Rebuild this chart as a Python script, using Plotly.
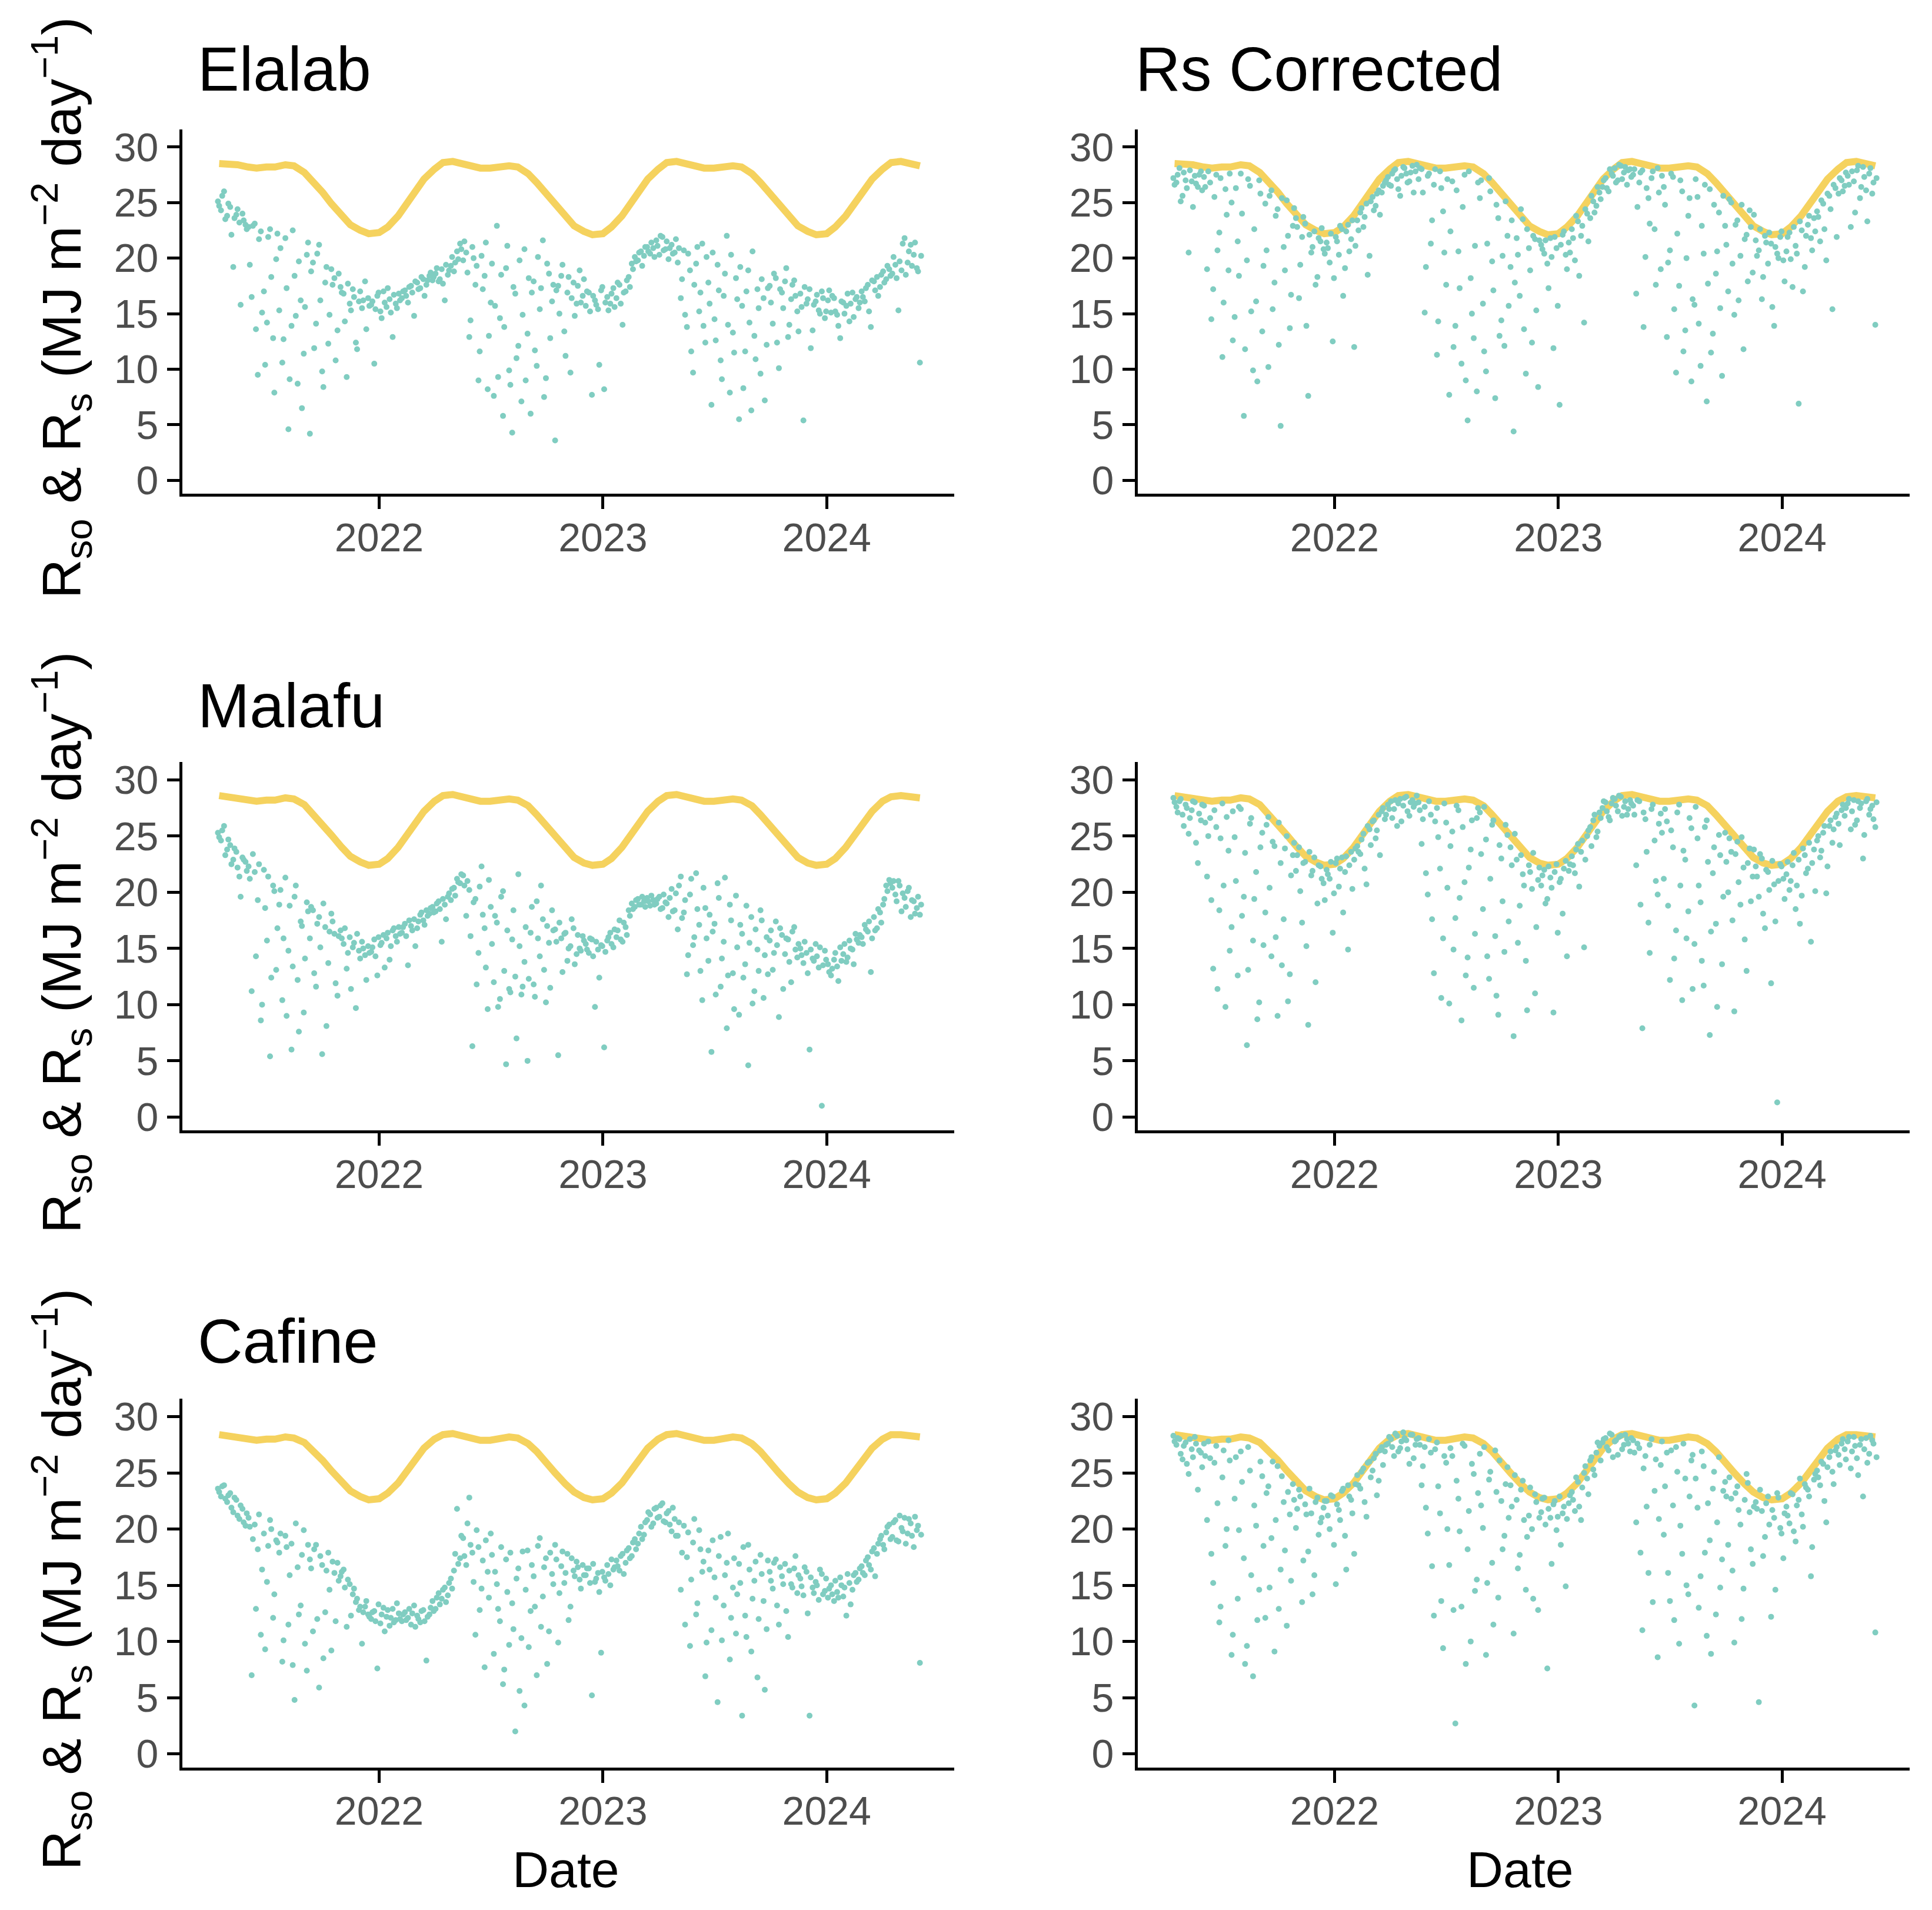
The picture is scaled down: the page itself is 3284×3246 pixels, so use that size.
import pandas as pd
import plotly.graph_objects as go
from plotly.subplots import make_subplots

# Rs readings: two interleaved sets, each one value every 5 days
# set A from 2021-04-13, set B from 2021-04-15, both running to early June 2024
# Rso clear-sky curve read twice a month (1st and 15th), 2021-04-15 .. 2024-06-01
rs_start_a = "2021-04-13"
rs_start_b = "2021-04-15"
rso_start = "2021-04-15"

tick_dates = ["2022-01-01", "2023-01-01", "2024-01-01"]
tick_labels = ["2022", "2023", "2024"]
y_ticks = [0, 5, 10, 15, 20, 25, 30]

site_names = ["Elalab", "Malafu", "Cafine"]

rso_elalab = [
    28.5, 28.5, 28.4, 28.2, 28.1, 28.2, 28.2, 28.4, 28.3, 27.7, 26.9, 25.9, 24.9, 23.8, 23.0, 22.5, 22.2,
    22.3, 22.8, 23.8, 24.9, 26.0, 27.1, 28.0, 28.6, 28.7, 28.5, 28.2, 28.1, 28.1, 28.2, 28.3, 28.2,
    27.6, 26.8, 25.8, 24.8, 23.7, 22.9, 22.4, 22.1,
    22.2, 22.8, 23.8, 24.9, 26.0, 27.1, 28.0, 28.6, 28.7, 28.5, 28.2, 28.1, 28.1, 28.2, 28.3, 28.2,
    27.6, 26.8, 25.8, 24.8, 23.7, 22.9, 22.4, 22.1,
    22.2, 22.8, 23.8, 24.9, 26.0, 27.1, 28.0, 28.6, 28.7, 28.5, 28.3,
]
rso_malafu = [
    28.6, 28.5, 28.4, 28.2, 28.1, 28.2, 28.2, 28.4, 28.3, 27.8, 27.0, 26.0, 25.1, 24.0, 23.2, 22.7, 22.4,
    22.5, 23.0, 24.0, 25.0, 26.1, 27.2, 28.1, 28.6, 28.7, 28.5, 28.2, 28.1, 28.1, 28.2, 28.3, 28.2,
    27.7, 26.9, 25.9, 24.9, 23.9, 23.1, 22.6, 22.4,
    22.5, 23.0, 24.0, 25.0, 26.1, 27.2, 28.1, 28.6, 28.7, 28.5, 28.2, 28.1, 28.1, 28.2, 28.3, 28.2,
    27.7, 26.9, 25.9, 24.9, 23.9, 23.1, 22.6, 22.4,
    22.5, 23.0, 24.0, 25.0, 26.1, 27.2, 28.1, 28.5, 28.6, 28.5, 28.4,
]
rso_cafine = [
    28.4, 28.3, 28.2, 28.0, 27.9, 28.0, 28.0, 28.2, 28.1, 27.7, 27.0, 26.1, 25.2, 24.2, 23.4, 22.9, 22.6,
    22.7, 23.2, 24.1, 25.1, 26.1, 27.2, 28.0, 28.4, 28.5, 28.3, 28.0, 27.9, 27.9, 28.0, 28.2, 28.1,
    27.6, 26.9, 26.0, 25.0, 24.0, 23.3, 22.8, 22.6,
    22.7, 23.2, 24.1, 25.1, 26.1, 27.2, 28.0, 28.4, 28.5, 28.3, 28.0, 27.9, 27.9, 28.0, 28.2, 28.1,
    27.6, 26.9, 26.0, 25.0, 24.0, 23.3, 22.8, 22.6,
    22.7, 23.2, 24.1, 25.1, 26.1, 27.2, 28.0, 28.4, 28.4, 28.3, 28.2,
]

rs_elalab_a = [
    25.1, 24.3, 26.0, 23.8, 24.6, 19.2, 23.9, 23.2, 24.0, 23.0,
    22.8, 16.5, 23.1, 9.5, 22.4, 17.0, 14.2, 22.6, 12.8, 19.9,
    15.3, 10.6, 21.8, 4.6, 13.9, 18.4, 8.7, 16.2, 11.4, 20.3,
    4.2, 19.6, 14.1, 21.2, 9.8, 17.8, 12.3, 19.0, 18.2, 13.5,
    17.4, 16.8, 9.3, 15.9, 17.2, 12.4, 16.1, 15.5, 17.9, 16.4,
    15.8, 10.5, 16.6, 15.2, 17.0, 15.6, 16.3, 12.9, 15.9, 16.8,
    16.4, 17.1, 16.0, 17.5, 14.8, 17.8, 17.3, 18.1, 17.6, 18.4,
    18.0, 18.6, 17.9, 19.0, 16.2, 18.5, 19.3, 18.8, 20.6, 21.3,
    19.8, 20.5, 12.9, 21.0, 17.6, 9.0, 20.2, 18.4, 8.2, 16.0,
    7.6, 22.9, 14.6, 5.8, 19.1, 9.9, 4.3, 16.8, 12.1, 7.1,
    20.8, 13.2, 6.0, 17.9, 10.3, 15.4, 21.6, 9.2, 18.6, 16.1,
    3.6, 17.5, 18.4, 13.4, 16.9, 9.7, 17.8, 15.9, 18.9, 16.6,
    15.7, 16.9, 7.7, 16.2, 15.4, 17.1, 8.2, 16.5, 15.9, 17.3,
    16.4, 17.6, 14.0, 17.0, 18.3, 19.5, 20.1, 19.8, 20.6, 20.2,
    21.0, 20.4, 20.9, 21.6, 20.3, 21.9, 20.8, 19.9, 21.2, 20.5,
    19.6, 16.4, 20.7, 13.8, 18.9, 9.7, 19.5, 15.2, 21.3, 12.4,
    17.8, 6.8, 14.5, 19.4, 10.8, 16.6, 22.0, 7.9, 13.3, 18.2,
    5.5, 15.7, 11.6, 18.9, 6.3, 13.0, 17.2, 9.6, 16.4, 12.2,
    17.5, 14.1, 18.2, 10.1, 16.9, 17.9, 12.9, 16.3, 18.0, 15.2,
    16.8, 5.4, 15.9, 17.2, 13.5, 16.1, 15.3, 17.0, 14.6, 16.2,
    15.1, 16.4, 14.9, 12.8, 16.0, 15.7, 14.3, 16.9, 16.3, 15.5,
    17.0, 16.1, 17.6, 13.8, 17.9, 18.3, 17.4, 18.8, 18.1, 19.0,
    18.6, 19.4, 15.3, 18.9, 21.8, 19.6, 21.2, 20.3, 19.1, 10.6,
]
rs_elalab_b = [
    24.7, 25.6, 23.5, 24.9, 22.1, 23.6, 24.4, 15.8, 23.4, 22.6,
    19.4, 22.9, 13.6, 21.7, 15.1, 10.4, 21.9, 18.3, 7.9, 22.2,
    20.9, 12.7, 17.3, 9.1, 22.5, 14.8, 19.7, 6.5, 15.6, 21.4,
    18.8, 11.9, 20.4, 16.2, 8.4, 19.2, 14.9, 17.6, 10.8, 18.6,
    16.9, 14.3, 17.7, 15.3, 16.5, 11.8, 17.0, 16.2, 13.6, 15.7,
    16.1, 15.4, 16.9, 14.6, 16.0, 17.3, 15.1, 16.7, 15.5, 16.2,
    17.0, 16.6, 17.4, 16.9, 17.9, 17.2, 18.3, 16.6, 18.0, 18.7,
    18.3, 19.1, 18.1, 17.7, 19.4, 18.9, 20.1, 19.6, 19.9, 20.8,
    21.5, 18.7, 14.4, 20.0, 19.3, 11.6, 17.2, 21.4, 13.0, 19.5,
    15.7, 9.3, 18.5, 13.8, 21.1, 8.6, 17.4, 11.0, 19.8, 14.9,
    9.0, 18.2, 16.9, 11.7, 20.1, 17.3, 7.5, 19.5, 12.8, 17.6,
    17.1, 15.0, 19.4, 11.2, 18.3, 16.4, 14.8, 17.5, 16.0, 18.1,
    17.0, 15.2, 16.6, 15.8, 10.4, 17.4, 16.0, 15.3, 16.8, 15.6,
    17.8, 15.9, 16.9, 18.0, 17.4, 19.0, 19.7, 20.5, 19.3, 21.0,
    20.6, 21.4, 20.1, 21.1, 22.0, 20.7, 21.5, 20.9, 20.4, 21.7,
    20.9, 18.1, 14.9, 20.4, 11.6, 17.6, 21.0, 16.9, 13.9, 20.1,
    15.9, 20.5, 12.6, 17.1, 9.1, 18.6, 14.0, 20.3, 11.5, 16.3,
    19.2, 8.3, 17.0, 14.2, 20.6, 10.9, 15.5, 18.1, 7.2, 17.3,
    16.0, 18.6, 12.4, 17.2, 15.5, 19.1, 14.0, 17.6, 16.6, 13.4,
    15.6, 17.4, 16.3, 11.9, 15.8, 16.7, 15.0, 16.4, 15.2, 17.1,
    16.6, 15.2, 13.9, 16.1, 15.0, 16.8, 15.9, 14.7, 16.5, 16.0,
    16.5, 17.3, 15.2, 18.0, 17.1, 16.6, 18.5, 17.8, 19.3, 18.4,
    20.1, 18.2, 19.7, 21.3, 18.5, 20.6, 19.3, 21.4, 18.8, 20.2,
]
rs_elalab_corr_a = [
    27.2, 26.8, 28.1, 25.6, 27.0, 20.5, 26.9, 27.4, 26.4, 27.8,
    27.3, 19.0, 26.8, 17.2, 27.5, 22.3, 11.1, 26.2, 18.9, 25.0,
    14.7, 21.5, 27.6, 5.8, 19.8, 26.5, 9.9, 16.1, 27.0, 13.4,
    24.9, 10.2, 26.1, 17.8, 24.4, 4.9, 21.0, 25.2, 13.7, 22.9,
    23.6, 16.4, 21.9, 23.1, 7.6, 20.5, 22.4, 18.3, 21.5, 20.8,
    21.4, 19.6, 12.5, 21.9, 20.3, 22.6, 19.1, 23.0, 21.7, 12.0,
    23.4, 24.1, 22.8, 24.9, 20.2, 25.5, 24.7, 26.1, 25.9, 26.8,
    27.3, 26.5, 27.9, 27.1, 25.6, 28.2, 27.6, 26.9, 28.3, 27.8,
    27.1, 28.0, 15.1, 27.4, 21.3, 26.6, 11.3, 27.8, 24.2, 17.6,
    7.7, 26.9, 13.9, 20.6, 10.5, 27.5, 5.4, 18.2, 12.8, 8.0,
    25.4, 15.9, 9.8, 27.2, 19.7, 7.4, 23.6, 14.4, 12.1, 22.0,
    19.2, 4.4, 21.8, 16.6, 23.5, 9.6, 20.9, 12.4, 21.7, 8.4,
    21.2, 20.4, 19.5, 21.8, 11.9, 20.9, 6.8, 22.1, 20.3, 21.4,
    22.6, 19.8, 23.3, 22.0, 14.2, 24.0, 23.6, 25.1, 24.7, 25.9,
    26.4, 27.2, 26.0, 27.6, 28.1, 27.0, 28.3, 27.7, 26.6, 28.0,
    27.5, 16.8, 26.8, 27.9, 20.1, 25.4, 27.2, 22.6, 28.1, 19.0,
    26.4, 12.9, 20.7, 27.3, 9.7, 17.5, 26.0, 13.5, 23.8, 8.9,
    15.8, 25.5, 10.3, 20.4, 7.1, 26.2, 13.2, 18.6, 24.1, 9.4,
    22.9, 17.0, 25.0, 14.9, 23.4, 20.2, 11.8, 22.1, 24.3, 18.7,
    21.6, 20.7, 16.3, 22.0, 19.5, 21.3, 13.9, 20.4, 21.9, 19.8,
    20.6, 22.3, 17.4, 21.1, 6.9, 22.5, 19.2, 23.0, 21.8, 23.6,
    24.2, 21.5, 24.9, 19.8, 25.6, 15.4, 26.3, 25.8, 27.0, 26.5,
    27.4, 22.8, 26.9, 27.9, 25.4, 28.2, 26.1, 27.6, 25.8, 14.0,
]
rs_elalab_corr_b = [
    26.6, 27.5, 25.1, 27.7, 26.3, 27.9, 24.6, 26.7, 27.5, 26.1,
    26.4, 27.8, 14.5, 25.5, 20.7, 27.2, 16.0, 23.9, 27.6, 12.6,
    26.3, 18.4, 24.0, 11.8, 27.1, 15.2, 22.6, 8.9, 25.8, 19.3,
    20.7, 25.6, 15.4, 23.8, 12.2, 25.4, 18.9, 22.0, 16.7, 24.5,
    22.8, 19.4, 23.7, 13.9, 22.1, 21.0, 17.6, 21.8, 22.7, 20.4,
    20.9, 22.2, 18.2, 21.5, 22.9, 16.6, 22.4, 20.6, 23.4, 21.1,
    22.5, 24.5, 23.7, 18.5, 25.1, 24.3, 25.8, 23.9, 26.5, 27.0,
    26.6, 27.6, 28.0, 26.2, 27.4, 28.1, 26.8, 27.7, 25.9, 28.4,
    28.1, 25.9, 19.2, 27.6, 23.4, 28.0, 14.3, 26.3, 20.5, 27.1,
    22.4, 12.0, 26.1, 17.3, 24.6, 9.0, 27.8, 15.0, 21.1, 26.8,
    27.0, 11.6, 21.3, 26.0, 17.1, 24.8, 13.0, 20.2, 25.1, 15.7,
    23.4, 17.8, 20.3, 24.4, 13.6, 22.6, 18.9, 22.0, 15.3, 21.6,
    20.8, 21.6, 17.3, 20.1, 21.9, 15.7, 21.2, 22.4, 19.0, 20.5,
    21.8, 23.8, 18.4, 22.9, 24.4, 21.5, 25.6, 24.1, 26.4, 25.3,
    27.0, 26.3, 28.0, 27.4, 26.8, 28.4, 27.1, 28.2, 27.9, 27.3,
    28.0, 24.6, 27.7, 13.8, 26.3, 23.1, 27.8, 17.6, 25.9, 27.4,
    24.8, 19.6, 27.6, 15.4, 22.2, 27.0, 11.6, 20.0, 25.4, 16.3,
    27.1, 14.1, 22.9, 26.6, 17.7, 11.5, 24.8, 20.6, 15.5, 25.6,
    21.2, 25.3, 19.5, 23.0, 16.2, 24.8, 21.7, 17.9, 22.8, 23.9,
    20.2, 22.6, 18.3, 21.4, 22.3, 15.6, 21.0, 20.0, 22.4, 17.9,
    21.9, 19.9, 22.8, 20.4, 23.3, 17.0, 22.0, 23.8, 20.7, 22.4,
    23.7, 25.2, 22.6, 25.8, 24.4, 26.6, 21.9, 27.2, 26.0, 27.7,
    26.6, 27.8, 24.1, 28.3, 26.4, 27.3, 23.3, 28.1, 26.8, 27.2,
]

rs_malafu_a = [
    25.3, 24.6, 25.9, 23.8, 24.2, 22.9, 23.6, 21.4, 23.1, 22.7,
    22.3, 11.2, 21.8, 19.3, 8.6, 22.0, 15.7, 5.4, 20.6, 13.1,
    18.9, 10.4, 21.3, 14.8, 6.0, 19.6, 12.2, 17.4, 9.3, 19.1,
    15.9, 18.4, 11.6, 17.8, 5.6, 16.9, 13.7, 18.1, 16.3, 10.8,
    16.6, 15.4, 13.2, 16.0, 15.1, 9.7, 14.8, 15.6, 14.4, 15.2,
    14.7, 15.8, 12.6, 15.3, 16.2, 15.9, 14.0, 16.6, 16.1, 16.9,
    16.4, 17.2, 13.5, 17.0, 17.6, 16.8, 18.0, 17.5, 18.4, 18.1,
    18.7, 18.3, 19.2, 15.6, 18.9, 19.6, 19.3, 20.4, 21.2, 20.8,
    21.5, 17.9, 20.2, 6.3, 19.4, 14.6, 22.3, 16.8, 9.6, 18.7,
    12.0, 17.3, 10.5, 20.1, 4.7, 11.4, 15.8, 12.5, 21.6, 10.9,
    13.8, 5.0, 16.4, 11.8, 19.2, 14.3, 17.6, 10.2, 15.5, 18.4,
    16.7, 5.5, 15.9, 16.3, 13.9, 15.2, 16.8, 14.5, 15.0, 16.1,
    15.4, 14.6, 15.8, 9.8, 14.9, 15.3, 6.2, 15.7, 16.4, 15.1,
    16.0, 17.5, 15.6, 16.9, 18.4, 19.0, 18.7, 19.4, 18.9, 19.2,
    19.5, 18.8, 19.3, 19.0, 19.6, 18.6, 19.1, 17.8, 20.3, 18.4,
    16.7, 21.4, 18.2, 12.7, 19.8, 15.3, 21.7, 17.1, 10.4, 18.6,
    13.9, 5.8, 17.2, 20.8, 11.6, 15.6, 7.9, 18.9, 12.8, 19.7,
    9.1, 16.3, 13.6, 4.6, 17.8, 11.2, 14.9, 18.4, 10.6, 16.0,
    15.7, 13.1, 17.4, 8.9, 16.2, 14.5, 15.8, 12.0, 16.9, 14.2,
    15.0, 13.7, 14.6, 6.0, 14.1, 15.4, 13.3, 1.0, 14.8, 13.6,
    12.6, 14.0, 13.4, 15.1, 14.5, 13.8, 15.7, 14.9, 16.3, 15.5,
    16.0, 17.1, 16.5, 12.9, 17.8, 16.8, 18.2, 18.9, 20.6, 21.1,
    20.4, 19.8, 21.0, 18.3, 19.5, 20.1, 17.8, 19.2, 18.6, 18.0,
]
rs_malafu_b = [
    24.9, 25.5, 23.3, 24.7, 22.5, 23.9, 22.2, 19.6, 22.9, 21.9,
    21.2, 23.4, 14.3, 22.5, 10.0, 18.6, 21.4, 12.4, 20.1, 16.8,
    20.2, 15.9, 9.0, 18.8, 13.4, 20.6, 7.6, 17.0, 14.1, 18.3,
    18.7, 12.8, 17.2, 15.1, 19.0, 8.1, 16.5, 17.4, 11.9, 16.1,
    15.9, 16.8, 14.6, 11.4, 15.5, 16.3, 14.1, 15.0, 12.2, 14.6,
    15.1, 14.3, 16.0, 15.5, 13.3, 16.4, 15.2, 16.8, 15.6, 16.3,
    16.9, 16.1, 17.5, 16.6, 15.2, 17.4, 18.2, 17.1, 17.9, 18.6,
    18.2, 19.0, 18.5, 19.4, 17.6, 19.9, 20.3, 19.7, 20.9, 21.6,
    20.6, 21.0, 16.1, 19.1, 11.8, 20.5, 18.0, 13.3, 21.1, 15.4,
    17.9, 9.8, 19.6, 13.0, 16.6, 11.1, 18.4, 7.0, 15.2, 11.6,
    16.9, 12.3, 18.7, 10.7, 15.9, 20.6, 13.1, 17.0, 11.5, 16.6,
    15.6, 17.3, 12.9, 16.4, 15.0, 17.6, 13.6, 16.2, 14.8, 15.7,
    14.9, 15.9, 14.3, 15.6, 12.4, 15.2, 14.7, 16.0, 15.4, 16.7,
    16.6, 15.8, 17.3, 16.2, 17.9, 18.5, 19.3, 18.9, 19.6, 18.7,
    19.2, 19.7, 18.9, 19.4, 18.5, 19.8, 19.0, 19.5, 18.3, 19.9,
    20.6, 17.7, 19.3, 14.4, 21.2, 16.0, 18.5, 13.0, 20.4, 15.9,
    18.0, 16.5, 10.9, 19.5, 14.1, 21.3, 12.6, 17.5, 9.6, 15.1,
    17.1, 12.4, 18.8, 15.5, 10.1, 16.7, 13.0, 17.5, 14.4, 12.7,
    16.6, 14.6, 15.3, 16.8, 11.4, 15.9, 13.8, 16.5, 14.9, 15.4,
    14.4, 15.6, 12.8, 14.9, 13.9, 14.3, 15.1, 13.5, 14.0, 12.9,
    13.2, 14.6, 12.1, 13.9, 15.4, 14.2, 15.0, 13.6, 15.8, 16.2,
    15.4, 16.7, 17.4, 15.9, 16.6, 18.5, 17.3, 19.4, 20.1, 20.8,
    21.0, 19.2, 20.6, 19.9, 18.7, 20.4, 19.3, 18.1, 19.6, 18.9,
]
rs_malafu_corr_a = [
    28.4, 27.6, 28.1, 26.9, 27.8, 25.2, 27.3, 28.0, 22.6, 26.4,
    27.7, 21.4, 26.6, 13.2, 25.8, 18.4, 27.9, 9.8, 23.7, 16.9,
    24.9, 12.6, 27.4, 19.6, 6.4, 26.1, 15.7, 21.8, 10.2, 25.3,
    18.2, 26.7, 14.3, 24.1, 9.0, 22.6, 17.6, 25.0, 12.7, 23.3,
    21.9, 24.0, 17.3, 22.7, 8.2, 21.5, 23.1, 19.0, 22.3, 20.8,
    22.0, 21.2, 16.4, 22.6, 20.5, 23.1, 21.8, 14.9, 23.6, 22.9,
    24.1, 23.4, 25.2, 20.7, 25.6, 26.3, 24.8, 26.9, 27.2, 26.5,
    27.8, 28.1, 27.4, 25.9, 28.3, 27.7, 28.5, 26.8, 28.2, 27.9,
    28.0, 24.3, 27.6, 19.8, 26.9, 12.8, 27.5, 22.1, 15.9, 26.2,
    10.1, 25.4, 17.7, 27.3, 8.6, 20.9, 14.2, 23.8, 11.5, 26.6,
    27.1, 18.5, 24.7, 12.3, 26.0, 16.1, 9.1, 23.0, 14.7, 25.1,
    24.0, 7.2, 22.9, 18.8, 21.6, 13.9, 22.4, 20.3, 11.0, 21.1,
    20.6, 22.0, 19.4, 21.3, 9.3, 22.5, 20.9, 18.1, 22.8, 21.9,
    23.2, 21.7, 24.3, 23.6, 15.1, 25.0, 25.8, 26.4, 24.9, 27.1,
    27.5, 28.0, 26.7, 27.9, 28.3, 27.2, 28.5, 27.6, 26.9, 28.2,
    27.7, 22.4, 28.1, 7.9, 26.5, 17.3, 27.4, 24.6, 19.8, 27.0,
    21.2, 26.3, 12.2, 24.0, 16.6, 27.8, 10.4, 22.9, 18.3, 25.7,
    15.4, 24.8, 19.1, 11.7, 26.4, 7.3, 21.7, 17.2, 25.1, 13.6,
    25.3, 20.0, 23.6, 9.4, 24.5, 18.9, 22.2, 13.0, 23.9, 21.4,
    22.3, 19.6, 23.0, 16.8, 21.8, 11.9, 20.7, 1.3, 22.5, 21.2,
    21.6, 20.2, 22.4, 18.5, 22.9, 19.7, 23.3, 22.1, 15.6, 23.8,
    24.6, 23.1, 25.3, 19.9, 25.9, 24.4, 26.7, 26.1, 27.3, 26.8,
    27.9, 25.6, 28.2, 26.4, 27.5, 23.0, 28.1, 26.9, 27.7, 25.8,
]
rs_malafu_corr_b = [
    28.0, 27.1, 28.3, 25.9, 27.5, 26.6, 28.1, 24.4, 27.0, 27.8,
    26.2, 25.0, 19.3, 27.3, 11.4, 24.8, 20.6, 26.7, 14.8, 27.2,
    21.0, 27.6, 17.9, 23.5, 13.1, 26.6, 19.4, 8.7, 24.0, 15.3,
    26.0, 20.4, 24.5, 16.0, 26.2, 13.5, 23.9, 10.3, 21.5, 24.4,
    23.3, 20.1, 22.6, 15.2, 23.6, 21.9, 12.0, 22.4, 21.2, 19.3,
    21.6, 22.7, 19.9, 23.0, 22.1, 18.2, 23.2, 22.4, 20.3, 23.9,
    23.6, 24.7, 22.1, 25.9, 24.2, 26.4, 25.5, 23.3, 27.5, 26.9,
    27.4, 26.6, 28.2, 27.9, 26.3, 28.4, 27.2, 28.0, 27.6, 28.6,
    27.3, 26.5, 21.7, 28.1, 17.6, 26.3, 24.9, 10.6, 27.9, 20.4,
    24.1, 14.9, 27.7, 19.5, 25.8, 12.6, 22.2, 26.4, 16.3, 27.5,
    23.4, 27.6, 14.3, 21.2, 26.4, 10.8, 24.2, 19.2, 26.0, 17.4,
    22.4, 25.2, 15.5, 23.3, 20.6, 9.5, 21.8, 23.5, 16.9, 22.2,
    21.5, 19.0, 22.3, 20.4, 21.8, 16.4, 21.2, 22.1, 14.3, 22.5,
    22.4, 23.8, 20.5, 24.6, 22.9, 25.5, 24.1, 26.9, 25.4, 26.6,
    28.1, 27.2, 26.4, 28.4, 27.7, 28.6, 26.8, 28.1, 27.4, 27.9,
    26.9, 28.2, 18.9, 27.1, 23.6, 14.6, 27.8, 21.0, 26.1, 25.3,
    27.4, 18.8, 25.5, 14.1, 27.1, 20.6, 23.7, 15.9, 26.6, 11.4,
    27.6, 20.6, 13.9, 25.8, 22.7, 16.5, 24.0, 9.8, 23.3, 19.6,
    22.7, 24.8, 17.5, 23.4, 20.9, 24.9, 15.8, 22.6, 19.2, 23.8,
    21.4, 23.4, 18.1, 22.0, 20.2, 22.8, 17.4, 21.0, 22.3, 19.4,
    22.7, 21.0, 23.5, 20.6, 17.2, 23.9, 21.7, 24.4, 22.6, 20.1,
    25.0, 23.7, 25.9, 22.3, 26.4, 25.6, 27.0, 24.2, 27.8, 27.5,
    28.3, 27.2, 26.0, 28.1, 27.9, 25.1, 28.3, 27.4, 26.5, 28.0,
]

rs_cafine_a = [
    23.6, 22.9, 23.9, 22.4, 23.2, 21.5, 22.6, 20.9, 21.8, 20.3,
    21.0, 7.0, 20.4, 18.2, 10.6, 19.6, 15.3, 20.8, 12.1, 19.0,
    17.9, 8.2, 19.4, 11.5, 18.7, 4.8, 16.6, 13.2, 19.9, 7.4,
    17.3, 10.9, 18.6, 5.9, 16.8, 12.6, 17.9, 9.2, 16.1, 17.0,
    15.8, 16.4, 11.3, 15.1, 14.2, 13.5, 12.8, 9.8, 13.1, 12.4,
    12.0, 12.7, 7.6, 11.6, 13.0, 12.2, 11.4, 12.9, 11.9, 12.5,
    11.8, 12.6, 12.1, 11.5, 13.2, 12.3, 11.7, 12.8, 8.3, 12.4,
    13.6, 12.9, 14.3, 13.8, 14.8, 14.1, 15.6, 16.3, 21.8, 17.4,
    19.2, 16.8, 22.8, 17.9, 10.6, 18.4, 14.7, 7.7, 16.2, 19.6,
    8.9, 15.1, 11.8, 6.2, 17.3, 9.7, 13.4, 2.0, 16.5, 10.3,
    4.3, 18.1, 12.7, 15.8, 7.0, 19.2, 14.0, 17.4, 10.9, 16.0,
    18.6, 9.9, 16.7, 15.2, 17.8, 13.1, 16.3, 17.1, 15.5, 16.8,
    15.9, 16.5, 5.2, 15.3, 16.1, 9.0, 15.7, 16.8, 15.0, 16.4,
    17.2, 16.3, 17.8, 17.0, 18.3, 17.6, 19.1, 18.7, 20.2, 19.5,
    20.8, 21.3, 20.5, 21.9, 21.1, 22.3, 20.6, 21.6, 19.8, 20.9,
    19.4, 14.6, 20.3, 17.5, 9.6, 18.8, 12.4, 19.9, 16.2, 6.9,
    18.1, 11.0, 15.7, 4.6, 19.3, 13.2, 17.0, 8.4, 14.8, 10.7,
    16.9, 3.4, 12.3, 18.6, 9.1, 15.4, 6.8, 17.7, 13.6, 11.1,
    16.2, 14.7, 17.3, 11.5, 15.8, 16.9, 10.4, 15.1, 16.5, 14.3,
    15.6, 14.1, 16.2, 3.4, 14.8, 15.3, 13.7, 16.0, 14.5, 13.9,
    15.0, 13.6, 14.4, 15.7, 14.0, 12.3, 15.2, 14.6, 16.1, 15.5,
    16.7, 15.9, 17.5, 16.4, 18.3, 17.8, 19.1, 18.6, 19.7, 20.4,
    19.3, 20.8, 18.9, 20.1, 21.0, 19.6, 20.5, 18.4, 19.9, 8.1,
]
rs_cafine_b = [
    23.3, 23.8, 22.7, 23.0, 21.9, 22.8, 21.2, 22.1, 20.6, 21.4,
    20.2, 19.1, 12.9, 21.3, 16.4, 9.3, 18.5, 20.0, 14.2, 18.8,
    19.6, 10.1, 18.4, 15.9, 7.9, 20.5, 12.4, 17.7, 9.8, 18.6,
    16.5, 18.2, 12.0, 17.6, 8.5, 16.3, 14.6, 17.1, 11.8, 15.4,
    16.2, 14.8, 15.5, 12.3, 14.7, 13.8, 13.1, 12.6, 13.6, 12.2,
    12.6, 11.8, 13.3, 12.4, 10.9, 12.8, 12.1, 11.7, 13.4, 12.0,
    12.4, 11.9, 12.9, 12.5, 11.3, 12.0, 12.7, 11.8, 12.2, 13.0,
    12.7, 13.9, 13.3, 14.6, 13.5, 15.2, 14.7, 17.8, 16.9, 19.4,
    17.6, 20.5, 18.6, 15.3, 19.9, 12.8, 17.2, 19.0, 13.9, 17.7,
    16.2, 12.9, 18.4, 7.5, 14.4, 17.9, 11.1, 15.6, 5.6, 18.0,
    14.6, 9.5, 16.8, 13.1, 18.5, 11.3, 16.6, 8.0, 17.9, 15.1,
    17.3, 14.3, 18.0, 16.1, 11.9, 17.4, 15.8, 16.6, 14.7, 15.9,
    16.5, 15.2, 16.9, 15.6, 14.4, 16.2, 15.4, 16.0, 17.3, 16.6,
    16.7, 17.6, 16.0, 18.1, 17.4, 18.8, 18.2, 19.6, 19.1, 20.6,
    21.5, 20.2, 21.8, 21.0, 22.1, 20.7, 21.4, 20.4, 21.9, 19.4,
    20.6, 17.9, 11.5, 19.7, 15.5, 20.9, 13.4, 18.2, 17.1, 9.9,
    16.4, 19.0, 13.9, 17.6, 10.1, 15.9, 19.6, 12.1, 17.4, 14.2,
    15.2, 18.4, 10.4, 16.4, 13.8, 17.1, 12.0, 16.0, 5.7, 17.2,
    15.4, 17.0, 13.2, 16.6, 15.1, 12.7, 16.3, 14.8, 17.6, 15.9,
    14.9, 16.6, 12.5, 15.7, 14.3, 15.0, 16.4, 14.2, 15.6, 14.7,
    14.2, 15.4, 13.9, 15.0, 14.8, 16.0, 13.3, 15.9, 15.3, 16.5,
    16.1, 17.2, 16.8, 18.0, 15.8, 18.7, 19.4, 18.2, 20.2, 19.1,
    20.6, 19.0, 21.2, 19.8, 18.7, 20.9, 19.4, 21.1, 20.3, 19.5,
]
rs_cafine_corr_a = [
    28.3, 27.5, 28.0, 26.2, 27.7, 24.9, 27.1, 28.2, 23.5, 26.8,
    27.6, 20.8, 26.3, 15.2, 27.4, 11.7, 24.6, 18.5, 27.9, 8.8,
    22.7, 13.8, 26.9, 17.4, 9.6, 25.2, 6.9, 20.3, 14.6, 24.7,
    12.1, 23.8, 19.2, 9.1, 25.6, 16.4, 22.4, 11.4, 21.3, 24.0,
    20.1, 23.5, 13.5, 22.2, 18.0, 21.4, 15.9, 22.8, 20.6, 21.9,
    22.5, 20.0, 22.9, 15.1, 21.7, 23.4, 19.4, 23.9, 22.6, 17.8,
    24.8, 23.6, 25.4, 21.1, 26.0, 25.2, 26.7, 24.3, 27.3, 26.9,
    27.6, 28.0, 26.5, 28.3, 27.2, 28.6, 27.9, 25.8, 28.4, 27.5,
    28.1, 23.9, 27.3, 19.6, 26.8, 12.3, 27.7, 21.4, 9.4, 25.9,
    16.8, 26.5, 2.7, 22.7, 13.1, 27.4, 18.2, 10.0, 24.9, 15.5,
    26.7, 20.1, 8.8, 24.4, 17.0, 27.0, 13.9, 22.5, 19.4, 25.5,
    23.9, 10.7, 22.6, 17.7, 24.3, 14.6, 21.2, 20.0, 23.1, 12.8,
    21.5, 22.8, 7.6, 21.0, 22.2, 19.9, 22.9, 21.4, 14.9, 22.3,
    23.3, 21.6, 24.2, 20.8, 25.0, 24.5, 26.1, 25.3, 26.8, 27.4,
    27.7, 28.1, 27.0, 28.4, 27.8, 26.6, 28.3, 27.5, 28.0, 26.9,
    27.9, 20.6, 27.2, 11.0, 26.5, 16.1, 28.0, 23.4, 8.6, 25.7,
    19.5, 26.8, 13.6, 22.1, 27.3, 9.8, 17.8, 24.5, 14.2, 26.1,
    4.3, 21.9, 15.8, 25.6, 10.5, 19.0, 23.6, 12.4, 26.4, 17.3,
    24.2, 18.6, 22.7, 9.9, 23.8, 20.4, 14.7, 24.9, 21.5, 16.9,
    22.4, 4.6, 21.6, 19.3, 22.9, 12.2, 21.0, 23.2, 20.1, 17.4,
    22.0, 20.5, 23.1, 18.9, 22.6, 21.3, 24.0, 23.5, 15.8, 24.4,
    25.2, 23.9, 25.8, 20.6, 26.4, 25.1, 27.0, 26.6, 27.6, 27.1,
    27.8, 25.4, 28.2, 26.3, 27.5, 22.9, 28.1, 26.7, 27.9, 10.8,
]
rs_cafine_corr_b = [
    27.8, 28.1, 26.7, 27.4, 25.8, 28.0, 26.4, 27.6, 27.0, 25.5,
    26.5, 27.8, 17.8, 25.9, 22.3, 13.1, 27.0, 20.0, 26.1, 10.6,
    26.4, 19.9, 24.2, 8.0, 27.3, 15.9, 22.1, 11.9, 26.0, 18.5,
    23.2, 14.8, 26.0, 20.8, 12.9, 24.7, 18.1, 23.3, 15.4, 22.6,
    21.8, 22.9, 17.2, 21.3, 23.6, 14.2, 22.4, 19.5, 21.0, 22.5,
    21.2, 23.0, 18.6, 22.2, 20.8, 23.6, 16.4, 22.9, 21.4, 24.0,
    23.9, 25.1, 22.4, 25.9, 24.6, 26.3, 23.0, 27.0, 25.7, 27.5,
    28.2, 27.3, 28.5, 26.9, 27.8, 28.1, 27.1, 28.4, 26.3, 28.0,
    27.5, 25.6, 21.9, 28.0, 16.7, 27.1, 23.8, 13.6, 26.5, 20.0,
    27.2, 12.8, 24.3, 19.8, 27.6, 8.0, 21.6, 25.8, 14.5, 23.2,
    22.1, 27.3, 15.2, 25.1, 11.5, 23.3, 26.1, 18.2, 24.0, 21.0,
    22.0, 24.8, 16.5, 23.5, 20.8, 19.3, 23.7, 13.8, 22.4, 21.0,
    22.7, 20.4, 21.8, 16.9, 22.5, 21.1, 18.6, 22.0, 20.9, 23.0,
    22.6, 24.6, 22.0, 23.7, 25.6, 23.1, 26.4, 24.8, 27.7, 26.1,
    28.0, 27.3, 28.5, 26.4, 27.9, 28.2, 27.1, 28.4, 27.6, 28.1,
    26.8, 27.6, 17.9, 25.4, 22.0, 27.5, 13.5, 26.2, 20.9, 27.8,
    23.8, 16.1, 27.0, 11.9, 25.1, 20.3, 27.6, 15.0, 22.9, 26.6,
    24.5, 13.0, 26.9, 17.9, 22.3, 8.9, 25.1, 20.6, 14.8, 23.4,
    22.9, 24.6, 16.3, 23.2, 21.7, 12.0, 22.6, 24.1, 18.2, 22.0,
    21.8, 23.5, 17.6, 22.3, 20.4, 21.7, 14.6, 22.8, 19.6, 21.4,
    21.2, 23.2, 19.8, 22.1, 24.5, 20.2, 23.7, 22.9, 18.4, 24.9,
    24.6, 26.0, 22.5, 25.5, 26.9, 24.0, 27.3, 25.7, 28.0, 26.2,
    28.2, 26.9, 27.4, 24.8, 28.0, 27.1, 25.9, 28.3, 27.6, 26.4,
]

RS_COLOR = "#80CDC1"
RSO_COLOR = "#F5D25E"
FONT = "Liberation Sans"

# the page body keeps its default 8px margin, so the figure is 16px smaller
# than the 3284x3246 page and every position below is given in page pixels
PAGE_PAD = 8
W, H = 3284 - 2 * PAGE_PAD, 3246 - 2 * PAGE_PAD


def fx(px):
    return (px - PAGE_PAD) / W


def fy(px):
    return 1 - (px - PAGE_PAD) / H


dates_a = pd.date_range(rs_start_a, periods=len(rs_elalab_a), freq="5D")
dates_b = pd.date_range(rs_start_b, periods=len(rs_elalab_b), freq="5D")
dates_rs = list(dates_a) + list(dates_b)
dates_rso = pd.date_range(rso_start, periods=len(rso_elalab), freq="SMS")

panels = [
    (rso_elalab, rs_elalab_a + rs_elalab_b, rs_elalab_corr_a + rs_elalab_corr_b),
    (rso_malafu, rs_malafu_a + rs_malafu_b, rs_malafu_corr_a + rs_malafu_corr_b),
    (rso_cafine, rs_cafine_a + rs_cafine_b, rs_cafine_corr_a + rs_cafine_corr_b),
]

# panel boxes in page pixels: (left, right) per column, (top, bottom) per row
col_px = [(310, 1622), (1934, 3246)]
row_px = [(213, 837), (1296, 1927), (2386, 3017)]

fig = make_subplots(rows=3, cols=2)

for r, (rso, rs_raw, rs_corr) in enumerate(panels):
    for c, rs in enumerate([rs_raw, rs_corr]):
        fig.add_trace(go.Scatter(
            x=dates_rso, y=rso, mode="lines",
            line=dict(color=RSO_COLOR, width=12),
            showlegend=False, hoverinfo="skip"
        ), row=r + 1, col=c + 1)
        fig.add_trace(go.Scatter(
            x=dates_rs, y=rs, mode="markers",
            marker=dict(color=RS_COLOR, size=10, line=dict(width=0)),
            showlegend=False
        ), row=r + 1, col=c + 1)

axis_common = dict(
    showline=True, linecolor="black", linewidth=5,
    ticks="outside", ticklen=21, tickwidth=5, tickcolor="black",
    showgrid=False, zeroline=False, mirror=False,
    tickfont=dict(family=FONT, size=68, color="#4D4D4D"),
)

for r in range(3):
    for c in range(2):
        n = r * 2 + c + 1
        sx = "" if n == 1 else str(n)
        left, right = col_px[c]
        top, bottom = row_px[r]
        fig.layout["xaxis" + sx].update(
            domain=[fx(left), fx(right)],
            type="date", range=["2021-02-14", "2024-07-27"],
            tickvals=tick_dates, ticktext=tick_labels,
            ticklabelstandoff=-10,
            **axis_common
        )
        fig.layout["yaxis" + sx].update(
            domain=[fy(bottom), fy(top)],
            range=[-1.2, 31.6], tickvals=y_ticks,
            ticklabelstandoff=1,
            **axis_common
        )

annotations = []
title_font = dict(family=FONT, size=106, color="black")
title_rows_y = [110, 1199, 2287]
titles = [(site_names[0], 334, 0), ("Rs Corrected", 1928, 0),
          (site_names[1], 334, 1), (site_names[2], 334, 2)]
for text, x_px, r in titles:
    annotations.append(dict(
        text=text, x=fx(x_px), y=fy(title_rows_y[r]),
        xref="paper", yref="paper", xanchor="left", yanchor="middle",
        showarrow=False, font=title_font
    ))

y_title = "R<sub>so</sub> & R<sub>s</sub> (MJ m<sup>\u22122</sup> day<sup>\u22121</sup>)"
for top, bottom in row_px:
    annotations.append(dict(
        text=y_title, x=fx(105), y=fy((top + bottom) / 2 - 6),
        xref="paper", yref="paper", xanchor="center", yanchor="middle",
        textangle=-90, showarrow=False,
        font=dict(family=FONT, size=93, color="black")
    ))

for x_px in [962, 2584]:
    annotations.append(dict(
        text="Date", x=fx(x_px), y=fy(3192),
        xref="paper", yref="paper", xanchor="center", yanchor="middle",
        showarrow=False, font=dict(family=FONT, size=86, color="black")
    ))

fig.update_layout(
    width=W, height=H, autosize=False,
    margin=dict(l=0, r=0, t=0, b=0),
    paper_bgcolor="white", plot_bgcolor="white",
    annotations=annotations,
    showlegend=False
)

fig.write_html("out.html")
